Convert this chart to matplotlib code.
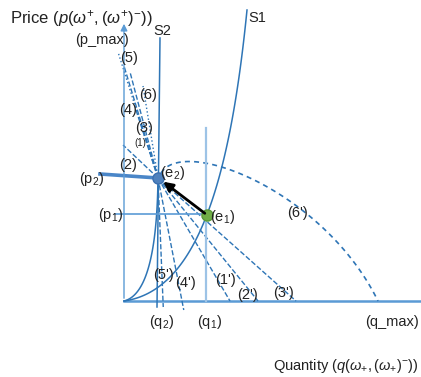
import numpy as np
import matplotlib
matplotlib.use("Agg")
import matplotlib.pyplot as plt

plt.rcParams['font.family'] = ['Liberation Sans', 'DejaVu Sans']
plt.rcParams['mathtext.fontset'] = 'custom'
plt.rcParams['mathtext.rm'] = 'Liberation Sans'
plt.rcParams['mathtext.it'] = 'Liberation Sans:italic'

# --- diagram values (quantity, price) ---
e1 = (83, 86)
e2 = (34, 123)
q1, q2, q_max = 82, 34, 254
p1, p2, p_max = 87, 123, 249

# rays from e2 up to the left: (5), (4), (6), (3), (1), (2)
upper_ends = [(-6, 249), (0, 235), (6, 229), (19, 215), (12, 191), (-1, 156)]
upper_styles = [':', '--', '--', ':', '--', '--']
# rays from e2 down to the quantity axis: (5'), (4'), (1'), (2'), (3')
lower_x = [39, 58, 106, 134, 172]
lower_bottom = [-6, -9, 0, 0, 0]

# control points of the curves
s1_ctrl = [(0, 0), (70, 10), (105, 110), (123, 291)]
s2_curve_ctrl = [(0, 0), (20, 5), (33, 40), (34, 123)]
arc6_ctrl = [(37, 128), (60, 165), (200, 110), (254, 0)]
s2_line = [(36, 263), (33, -6)]

labels = [
    ("(p_max)", -22, 261), ("S2", 38, 270), ("S1", 133, 283),
    ("(5)", 5, 243), ("(6)", 24, 206), ("(4)", 4, 191), ("(3)", 20, 173),
    ("(2)", 4, 136), ("(e$_2$)", 49, 128), ("(p$_2$)", -32, 122),
    ("(p$_1$)", -13, 86), ("(e$_1$)", 99, 84), ("(6')", 174, 88),
    ("(5')", 39, 26), ("(4')", 61, 18), ("(1')", 102, 21), ("(2')", 123, 6),
    ("(3')", 159, 8), ("(q$_2$)", 38, -21), ("(q$_1$)", 86, -21),
    ("(q_max)", 268, -21),
]

blue = '#2e75b6'
light = '#9dc3e6'


def bezier(ctrl, n=100):
    t = np.linspace(0, 1, n)[:, None]
    p = np.array(ctrl, dtype=float)
    return ((1 - t) ** 3 * p[0] + 3 * (1 - t) ** 2 * t * p[1]
            + 3 * (1 - t) * t ** 2 * p[2] + t ** 3 * p[3])


fig = plt.figure(figsize=(4.21, 3.77), dpi=100)
ax = fig.add_axes([0, 0, 1, 1])
ax.set_xlim(-124, 297)
ax.set_ylim(-76, 301)
ax.axis('off')

# axes of the diagram
ax.annotate('', xy=(0, 280), xytext=(0, 0),
            arrowprops=dict(arrowstyle='-|>', color='#5b9bd5', lw=1.0))
ax.plot([0, 297], [0, 0], color='#5b9bd5', lw=1.8)

# supply curves
s1 = bezier(s1_ctrl)
ax.plot(s1[:, 0], s1[:, 1], color=blue, lw=1.1)
s2c = bezier(s2_curve_ctrl)
ax.plot(s2c[:, 0], s2c[:, 1], color=blue, lw=1.1)
ax.plot([s2_line[0][0], s2_line[1][0]], [s2_line[0][1], s2_line[1][1]],
        color=blue, lw=1.1)

# rays through e2
for (x, y), ls in zip(upper_ends, upper_styles):
    ax.plot([e2[0], x], [e2[1], y], color=blue, lw=1.0, ls=ls)
for xi, yb in zip(lower_x, lower_bottom):
    slope = (e2[1] - 0) / (e2[0] - xi)
    xb = e2[0] + (yb - e2[1]) / slope
    ax.plot([e2[0], xb], [e2[1], yb], color=blue, lw=1.0, ls='--')

arc = bezier(arc6_ctrl)
ax.plot(arc[:, 0], arc[:, 1], color=blue, lw=1.2, ls=(0, (3, 2.5)))

# price / quantity markers
ax.plot([q1, q1], [0, 173], color=light, lw=1.6)
ax.plot([-9, e1[0]], [p1, p1], color='#5b9bd5', lw=1.2)
ax.plot([-24, e2[0]], [127, p2], color='#4a86c8', lw=2.6)

ax.annotate('', xy=(e2[0] + 3, e2[1] - 2), xytext=e1,
            arrowprops=dict(arrowstyle='-|>', color='black', lw=2.0,
                            mutation_scale=14))
ax.plot(*e2, 'o', color='#4f81bd', ms=8, mec='#3a6fb0')
ax.plot(*e1, 'o', color='#70ad47', ms=8, mec='#5a9a3a')

for txt, x, y in labels:
    ax.text(x, y, txt, fontsize=10.5, ha='center', va='center', color='#222222')
ax.text(16, 158, "(1)", fontsize=7, ha='center', va='center', color='#222222')

ax.text(-114, 283, r'Price ($p(\omega^{+},(\omega^{+})^{-})$)', fontsize=12,
        ha='left', va='center', color='#222222')
ax.text(295, -65, r'Quantity ($q(\omega_{+},(\omega_{+})^{-})$)', fontsize=10.5,
        ha='right', va='center', color='#222222')

fig.savefig('out.png', dpi=100)
